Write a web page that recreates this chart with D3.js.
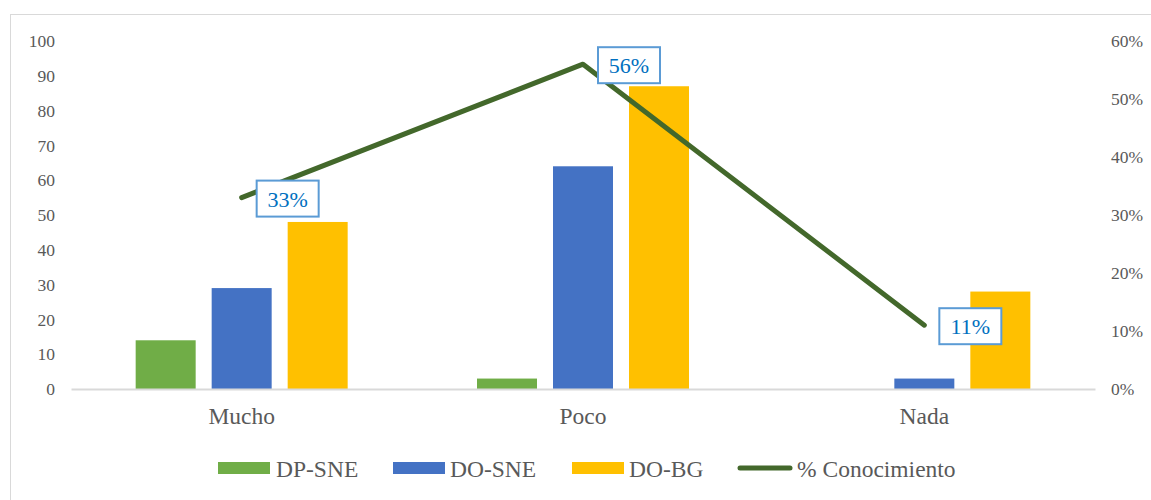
<!DOCTYPE html>
<html>
<head>
<meta charset="utf-8">
<script src="https://cdn.jsdelivr.net/npm/d3@7"></script>
<style>
  html, body { margin: 0; padding: 0; background: #fff; }
  svg { display: block; }
  svg text { font-family: "Liberation Serif", "Times New Roman", Times, "DejaVu Serif", serif !important; }
</style>
</head>
<body>
<svg id="chart" width="1151" height="500"></svg>
<script>
// Categories and series
const categories = ["Mucho", "Poco", "Nada"];
const seriesNames = ["DP-SNE", "DO-SNE", "DO-BG"];
const dpSne = [14, 3, 0];
const doSne = [29, 64, 3];
const doBg = [48, 87, 28];
const conocimiento = [0.33, 0.56, 0.11];
const lineName = "% Conocimiento";
const leftTicks = [0, 10, 20, 30, 40, 50, 60, 70, 80, 90, 100];
const rightTicks = [0, 0.1, 0.2, 0.3, 0.4, 0.5, 0.6];

const colors = { "DP-SNE": "#70AD47", "DO-SNE": "#4472C4", "DO-BG": "#FFC000" };
const lineColor = "#43682B";
const textColor = "#595959";

const svg = d3.select("#chart");

// Outer frame
svg.append("rect")
  .attr("x", 10.5).attr("y", 14.5)
  .attr("width", 1160).attr("height", 500)
  .attr("fill", "none").attr("stroke", "#D9D9D9").attr("stroke-width", 1);

const plot = { left: 71, right: 1095, top: 41, bottom: 389 };

const x = d3.scaleBand().domain(categories).range([plot.left, plot.right]);
const xInner = d3.scaleBand().domain(seriesNames)
  .range([0, 212]).paddingInner(16 / 76).paddingOuter(0);
const yLeft = d3.scaleLinear().domain([0, 100]).range([plot.bottom, plot.top]);
const yRight = d3.scaleLinear().domain([0, 0.6]).range([plot.bottom, plot.top]);

// Left axis
const leftAxis = svg.append("g")
  .attr("transform", `translate(${plot.left - 16},0)`)
  .call(d3.axisLeft(yLeft).tickValues(leftTicks).tickSize(0).tickPadding(0));
leftAxis.attr("font-family", null);
leftAxis.select(".domain").remove();
leftAxis.selectAll("text")
  .attr("fill", textColor).style("font-size", "17.5px");

// Right axis
const rightAxis = svg.append("g")
  .attr("transform", `translate(${plot.right + 16},0)`)
  .call(d3.axisRight(yRight).tickValues(rightTicks).tickFormat(d3.format(".0%")).tickSize(0).tickPadding(0));
rightAxis.attr("font-family", null);
rightAxis.select(".domain").remove();
rightAxis.selectAll("text")
  .attr("fill", textColor).style("font-size", "17.5px");

// Bars
const rows = categories.map((c, i) => ({
  cat: c,
  vals: [
    { name: "DP-SNE", v: dpSne[i] },
    { name: "DO-SNE", v: doSne[i] },
    { name: "DO-BG", v: doBg[i] }
  ]
}));
const groups = svg.append("g").selectAll("g").data(rows).join("g")
  .attr("transform", d => `translate(${x(d.cat) + x.bandwidth() / 2 - 106},0)`);
groups.selectAll("rect").data(d => d.vals.filter(v => v.v > 0)).join("rect")
  .attr("x", d => xInner(d.name))
  .attr("width", xInner.bandwidth())
  .attr("y", d => yLeft(d.v))
  .attr("height", d => yLeft(0) - yLeft(d.v))
  .attr("fill", d => colors[d.name]);

// X axis line and category labels
const xAxis = svg.append("g")
  .attr("transform", `translate(0,${plot.bottom})`)
  .call(d3.axisBottom(x).tickSize(0).tickPadding(0));
xAxis.attr("font-family", null);
xAxis.select(".domain").attr("stroke", "#D9D9D9").attr("stroke-width", 2);
xAxis.selectAll("text")
  .attr("dy", null).attr("y", 35)
  .attr("fill", textColor).style("font-size", "23.5px");

// Line series
const pts = categories.map((c, i) => ({ cat: c, v: conocimiento[i] }));
const line = d3.line().x(d => x(d.cat) + x.bandwidth() / 2).y(d => yRight(d.v));
svg.append("path").datum(pts)
  .attr("d", line)
  .attr("fill", "none").attr("stroke", lineColor)
  .attr("stroke-width", 5).attr("stroke-linecap", "round").attr("stroke-linejoin", "round");

// Data labels in boxes, to the right of each point
const lbl = svg.append("g").selectAll("g").data(pts).join("g")
  .attr("transform", d => `translate(${x(d.cat) + x.bandwidth() / 2 + 15},${yRight(d.v) + 1})`);
lbl.append("rect")
  .attr("x", 0).attr("y", -18).attr("width", 62).attr("height", 36)
  .attr("fill", "#fff").attr("stroke", "#5B9BD5").attr("stroke-width", 2);
lbl.append("text")
  .attr("x", 31).attr("y", 8)
  .attr("text-anchor", "middle")
  .attr("fill", "#0070C0").style("font-size", "22px")
  .text(d => d3.format(".0%")(d.v));

// Legend
const legendItems = [
  { name: "DP-SNE", x: 218, type: "bar", tx: 58 },
  { name: "DO-SNE", x: 393, type: "bar", tx: 57 },
  { name: "DO-BG", x: 572, type: "bar", tx: 57 },
  { name: lineName, x: 737, type: "line", tx: 60 }
];
const legend = svg.append("g").selectAll("g").data(legendItems).join("g")
  .attr("transform", d => `translate(${d.x},468)`);
legend.filter(d => d.type === "bar").append("rect")
  .attr("x", 0).attr("y", -6).attr("width", 52).attr("height", 12)
  .attr("fill", d => colors[d.name]);
legend.filter(d => d.type === "line").append("line")
  .attr("x1", 3).attr("x2", 53).attr("y1", 0).attr("y2", 0)
  .attr("stroke", lineColor).attr("stroke-width", 5).attr("stroke-linecap", "round");
legend.append("text")
  .attr("x", d => d.tx).attr("y", 8.5)
  .attr("fill", textColor).style("font-size", "23.5px")
  .text(d => d.name);
</script>
</body>
</html>
